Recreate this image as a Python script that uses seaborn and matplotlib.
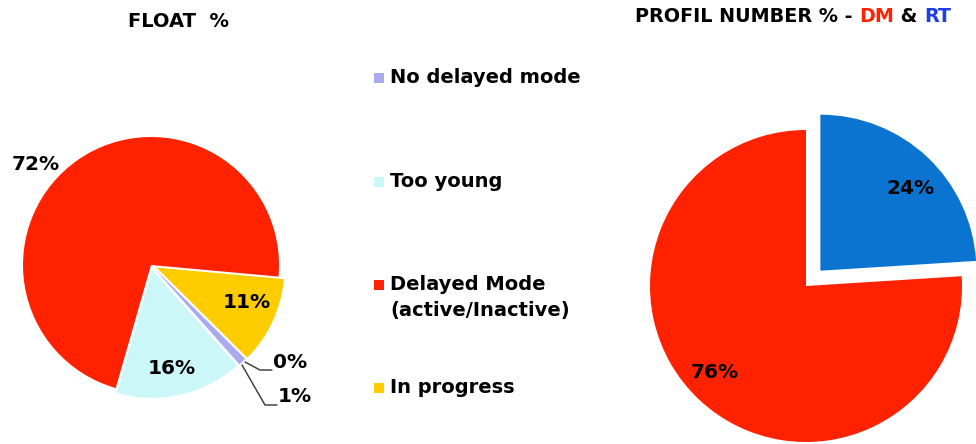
import matplotlib.pyplot as plt
import seaborn as sns

# left pie, counter-clockwise order starting at the bottom
float_names = ["Too young", "No delayed mode", "other", "In progress", "Delayed Mode"]
float_values = [16, 1, 0, 11, 72]
float_colors = ["#ccf7f9", "#aaaaee", "#ffffff", "#ffcc00", "#ff2200"]

# legend (as in the original, top to bottom)
legend_names = ["No delayed mode", "Too young", "Delayed Mode\n(active/Inactive)", "In progress"]
legend_colors = ["#aaaaee", "#ccf7f9", "#ff2200", "#ffcc00"]

# right pie
profil_names = ["RT", "DM"]
profil_values = [24, 76]
profil_colors = ["#0a74d0", "#ff2200"]

sns.set_theme(style="white")
plt.rcParams['font.family'] = ['DejaVu Sans']
plt.rcParams['text.color'] = 'black'

W, H = 976, 444
fig = plt.figure(figsize=(W / 100, H / 100), dpi=100)
ax = fig.add_axes([0, 0, 1, 1])


def Y(py):
    return H - py


fs = 14.5

# --- FLOAT % pie (explode is in data units = pixels here)
ax.pie(float_values, colors=float_colors, startangle=-106, counterclock=True,
       center=(151, Y(265)), radius=128, explode=[5, 5, 0, 6, 0],
       wedgeprops=dict(linewidth=0), frame=True)

ax.text(36, Y(165), "72%", fontsize=fs, fontweight='bold', ha='center', va='center')
ax.text(247, Y(302), "11%", fontsize=fs, fontweight='bold', ha='center', va='center')
ax.text(172, Y(368), "16%", fontsize=fs, fontweight='bold', ha='center', va='center')
ax.plot([245, 260, 272], [Y(362), Y(370), Y(370)], color='#333333', lw=1)
ax.text(290, Y(363), "0%", fontsize=fs, fontweight='bold', ha='center', va='center')
ax.plot([242, 265, 277], [Y(365), Y(405), Y(405)], color='#333333', lw=1)
ax.text(295, Y(397), "1%", fontsize=fs, fontweight='bold', ha='center', va='center')

ax.text(178, Y(22), "FLOAT  %", fontsize=14, fontweight='bold', ha='center', va='center')

# --- legend
leg_y = [78, 182, 285, 388]
for name, col, yy in zip(legend_names, legend_colors, leg_y):
    ax.scatter([379], [Y(yy)], marker='s', s=60, color=col, linewidths=0)
    ax.text(390, Y(yy - 10), name, fontsize=14, fontweight='bold', ha='left', va='top',
            linespacing=1.45)

# --- PROFIL NUMBER pie
ax.pie(profil_values, colors=profil_colors, startangle=90, counterclock=False,
       center=(806, Y(286)), radius=156, explode=[21, 0],
       wedgeprops=dict(linewidth=0), frame=True)
ax.text(910, Y(188), "24%", fontsize=fs, fontweight='bold', ha='center', va='center')
ax.text(715, Y(372), "76%", fontsize=fs, fontweight='bold', ha='center', va='center')

t1 = ax.text(635, Y(17), "PROFIL NUMBER % - ", fontsize=13.8, fontweight='bold',
             ha='left', va='center')
t2 = ax.annotate("DM", xy=(1, 0), xycoords=t1, fontsize=13.8, fontweight='bold',
                 color='#ff2200', va='bottom')
t3 = ax.annotate(" & ", xy=(1, 0), xycoords=t2, fontsize=13.8, fontweight='bold',
                 color='black', va='bottom')
ax.annotate("RT", xy=(1, 0), xycoords=t3, fontsize=13.8, fontweight='bold',
            color='#1f3fe0', va='bottom')

ax.set_xlim(0, W)
ax.set_ylim(0, H)
ax.set_aspect('equal')
ax.axis('off')

fig.savefig('out.png', dpi=100, facecolor='white')
